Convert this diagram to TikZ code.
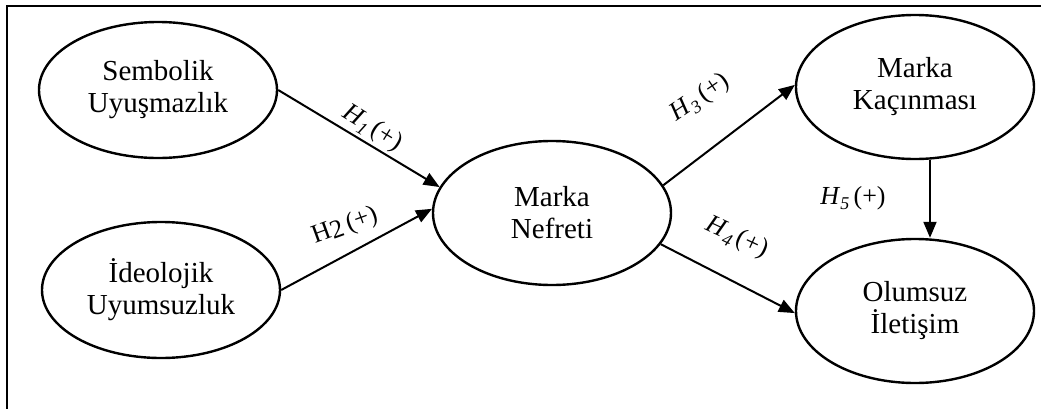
\documentclass[tikz,border=0pt]{standalone}
\usepackage{fontspec}
\setmainfont{Liberation Serif}
\usetikzlibrary{shapes.geometric,arrows.meta}
\newcommand{\hyp}[1]{\textit{H}\raisebox{-0.45ex}{\textit{\small #1}}\,(+)}
\begin{document}
\begin{tikzpicture}[x=0.5pt,y=-0.5pt,
  construct/.style={ellipse,draw,line width=1.2pt,minimum width=119pt,minimum height=70pt,
    align=center,font=\fontsize{14.5}{16}\selectfont,inner sep=0pt},
  path/.style={line width=1pt,-{Triangle[length=8pt,width=6.5pt]}},
  hlabel/.style={font=\fontsize{13}{15}\selectfont,inner sep=0pt}]
\useasboundingbox (0,0) rectangle (1041,408);
\draw[line width=1pt] (7,420) -- (7,6) -- (1050,6);
\node[construct,minimum height=68pt] (sem) at (158,90) {Sembolik\\Uyuşmazlık};
\node[construct,minimum height=68pt] (ide) at (161,290) {İdeolojik\\Uyumsuzluk};
\node[construct,minimum height=72pt] (nef) at (552,213) {Marka\\Nefreti};
\node[construct,minimum height=72pt] (kac) at (915,87) {Marka\\Kaçınması};
\node[construct,minimum height=72pt] (olu) at (915,311) {Olumsuz\\İletişim};
\draw[path] (sem.0) -- (nef.167);
\draw[path] (ide.0) -- (nef.178);
\draw[path] (nef.14) -- (kac.179);
\draw[path] (nef.-16) -- (olu.181);
\draw[path] ([xshift=7.5pt]kac.south) -- ([xshift=7.5pt]olu.north);
\node[hlabel,rotate=-32] (h1) at (372,128) {\hyp{1}};
\node[hlabel,rotate=20] (h2) at (345,226) {H\raisebox{-0.2ex}{2}\,(+)};
\node[hlabel,rotate=34] (h3) at (700,98) {\hyp{3}};
\node[hlabel,rotate=-25] (h4) at (737,238) {\hyp{4}};
\node[hlabel] (h5) at (853,198) {\hyp{5}};
\end{tikzpicture}
\end{document}
